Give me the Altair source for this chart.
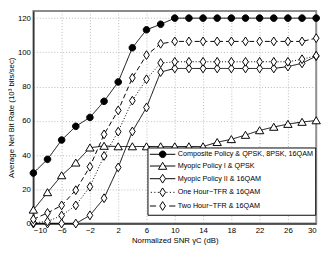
import altair as alt
import pandas as pd

# ---- data ----
x_vals = [-10, -8, -6, -4, -2, 0, 2, 4, 6, 8, 10, 12, 14, 16, 18, 20, 22, 24, 26, 28, 30]
composite = [29.5, 37.5, 48.8, 56.8, 62.0, 71.4, 82.7, 102.7, 113.2, 116.4, 120, 120, 120, 120, 120, 120, 120, 120, 120, 120, 120]
myopic1 = [8.0, 18.2, 28.1, 35.5, 44.3, 45.3, 45.0, 45.0, 45.0, 45.0, 45.0, 45.0, 45.0, 47.5, 49.2, 51.7, 54.4, 56.4, 58.1, 59.3, 60.2]
myopic2 = [0.0, 0.0, 0.0, 0.0, 4.8, 14.8, 32.8, 53.8, 67.8, 88.5, 90.6, 90.6, 90.6, 90.6, 90.6, 90.6, 90.6, 90.6, 91.7, 93.6, 97.8]
one_hour = [0.5, 1.2, 4.7, 10.6, 21.5, 39.5, 53.7, 71.8, 84.3, 93.8, 94.5, 94.5, 94.5, 94.5, 94.5, 94.5, 94.5, 94.5, 94.5, 96.0, 98.0]
two_hour = [2.5, 6.2, 10.6, 19.5, 33.2, 52.1, 66.1, 85.1, 98.4, 105.0, 106.4, 106.4, 106.4, 106.4, 106.4, 106.4, 106.4, 106.4, 106.4, 106.4, 108.3]

series_names = [
    "Composite Policy & QPSK, 8PSK, 16QAM",
    "Myopic Policy I & QPSK",
    "Myopic Policy II & 16QAM",
    "One Hour\u2212TFR & 16QAM",
    "Two Hour\u2212TFR & 16QAM",
]
series_values = [composite, myopic1, myopic2, one_hour, two_hour]

x_ticks = [-10, -6, -2, 2, 6, 10, 14, 18, 22, 26, 30]
y_ticks = [0, 20, 40, 60, 80, 100, 120]

rows = []
for name, vals in zip(series_names, series_values):
    for xv, yv in zip(x_vals, vals):
        rows.append({"series": name, "x": xv, "y": yv})
df = pd.DataFrame(rows)


# ---- marker shapes (unit = sqrt(size)/2 px) ----
def circle(c=0.0):
    return f"M{c+0.75},0A0.75,0.75 0 1,1 {c-0.75},0A0.75,0.75 0 1,1 {c+0.75},0Z"


def tri(c=0.0):
    return f"M{c},-0.85L{c+0.95},0.75L{c-0.95},0.75Z"


def dia(c=0.0):
    return f"M{c},-1L{c+0.65},0L{c},1L{c-0.65},0Z"


def segs(pairs, c):
    return "".join(f"M{c+a},0L{c+b},0" for a, b in pairs)


circle_p, tri_p, dia_p = circle(), tri(), dia()

C = 1.9  # legend marker centre (symbol spans -1 .. 4.8)
leg_circle = segs([(-2.9, 2.9)], C) + circle(C)
leg_tri = segs([(-2.9, -0.5), (0.5, 2.9)], C) + tri(C)
leg_dia = segs([(-2.9, -0.65), (0.65, 2.9)], C) + dia(C)
leg_dot = segs([(-2.7, -2.45), (-1.9, -1.65), (-1.1, -0.85), (0.85, 1.1), (1.65, 1.9), (2.45, 2.7)], C) + dia(C)
leg_dash = segs([(-2.9, -1.5), (1.5, 2.9)], C) + dia(C)

font = "Liberation Sans"

x_enc = alt.X(
    "x:Q",
    scale=alt.Scale(domain=[-10, 30], nice=False, zero=False),
    axis=alt.Axis(values=x_ticks, title="Normalized SNR \u03b3C (dB)", labelPadding=3, titlePadding=2),
)
y_enc = alt.Y(
    "y:Q",
    scale=alt.Scale(domain=[0, 124.2], nice=False, zero=False),
    axis=alt.Axis(values=y_ticks, title="Average Net Bit Rate (10\u00b3 bits/sec)", labelPadding=3, titlePadding=2),
)

lines = alt.Chart(df).mark_line(color="black", strokeWidth=1).encode(
    x=x_enc,
    y=y_enc,
    strokeDash=alt.StrokeDash(
        "series:N",
        scale=alt.Scale(domain=series_names, range=[[1, 0], [1, 0], [1, 0], [1, 2], [5, 3]]),
        legend=None,
    ),
)

points = alt.Chart(df).mark_point(color="black", size=81, strokeWidth=1, opacity=1).encode(
    x=x_enc,
    y=y_enc,
    shape=alt.Shape(
        "series:N",
        scale=alt.Scale(domain=series_names, range=[circle_p, tri_p, dia_p, dia_p, dia_p]),
        legend=None,
    ),
    fill=alt.Fill(
        "series:N",
        scale=alt.Scale(domain=series_names, range=["black", "white", "white", "white", "white"]),
        legend=None,
    ),
)

legend_def = alt.Legend(
    title=None,
    orient="none",
    legendX=117,
    legendY=140,
    strokeColor="black",
    fillColor="white",
    padding=2,
    cornerRadius=0,
    labelFont=font,
    labelFontSize=7.4,
    labelColor="black",
    labelLimit=400,
    symbolSize=81,
    symbolStrokeWidth=1,
    symbolStrokeColor="black",
    symbolOffset=0,
    labelOffset=19,
    rowPadding=0,
    columnPadding=0,
)

legend_layer = alt.Chart(df).transform_filter("false").mark_point(
    size=81, strokeWidth=1, opacity=1
).encode(
    x=x_enc,
    y=y_enc,
    shape=alt.Shape(
        "series:N",
        scale=alt.Scale(domain=series_names, range=[leg_circle, leg_tri, leg_dia, leg_dot, leg_dash]),
        legend=legend_def,
    ),
    fill=alt.Fill(
        "series:N",
        scale=alt.Scale(domain=series_names, range=["black", "white", "white", "white", "white"]),
        legend=legend_def,
    ),
    stroke=alt.Stroke(
        "series:N",
        scale=alt.Scale(domain=series_names, range=["black", "black", "black", "black", "black"]),
        legend=legend_def,
    ),
)

chart = (
    alt.layer(lines, points, legend_layer)
    .resolve_scale(shape="independent", fill="independent", stroke="independent")
    .properties(
        width=290,
        height=218,
        autosize="none",
        padding={"left": 26, "top": 0, "right": 8, "bottom": 20},
    )
    .configure(font=font)
    .configure_view(stroke="#8c8c8c", strokeWidth=2)
    .configure_axis(
        domainColor="black",
        domainWidth=1,
        ticks=False,
        grid=True,
        gridColor="#a8a8a8",
        gridDash=[1, 2],
        gridWidth=0.8,
        labelFont=font,
        labelFontSize=8,
        labelColor="black",
        titleFont=font,
        titleFontSize=8,
        titleFontWeight="normal",
        titleColor="black",
    )
)

chart.save("out.html", embed_options={"renderer": "svg", "actions": False})
